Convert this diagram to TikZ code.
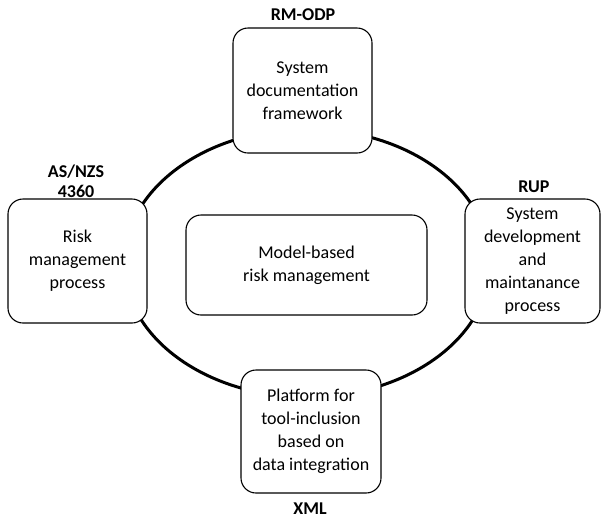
\documentclass[tikz,border=0pt]{standalone}
\usepackage{fontspec}
\setmainfont{Carlito}
\begin{document}
\begin{tikzpicture}[x=1pt,y=-1pt,
  boxstyle/.style={draw, line width=1.1pt, rounded corners=15pt, fill=white,
    align=center, inner sep=0pt, font=\fontsize{18}{23}\selectfont},
  lbl/.style={font=\fontsize{18}{20}\selectfont\bfseries, align=center, inner sep=0pt}]
\useasboundingbox (0,0) rectangle (601,520);
\draw[line width=3pt] (307,263) ellipse [x radius=183, y radius=134];
\node[boxstyle, minimum width=139pt, minimum height=125pt] (top) at (302.5,90.5)
  {System\\documentation\\framework};
\node[boxstyle, minimum width=139pt, minimum height=124pt] (left) at (77.5,261)
  {Risk\\management\\process};
\node[boxstyle, minimum width=135pt, minimum height=124pt] (right) at (532.5,261)
  {System\\development\\and\\maintanance\\process};
\node[boxstyle, minimum width=140pt, minimum height=123pt] (bottom) at (311,431.5)
  {Platform for\\tool-inclusion\\based on\\data integration};
\node[boxstyle, minimum width=241pt, minimum height=100pt] (center) at (306.5,265)
  {Model-based\\risk management};
\node[lbl, anchor=base] (rmodp) at (303,20) {RM-ODP};
\node[lbl, anchor=base] (asnzs) at (76,177) {AS/NZS};
\node[lbl, anchor=base] (n4360) at (76,197) {4360};
\node[lbl, anchor=base] (rup) at (534,192) {RUP};
\node[lbl, anchor=base] (xml) at (310,514) {XML};
\end{tikzpicture}
\end{document}
